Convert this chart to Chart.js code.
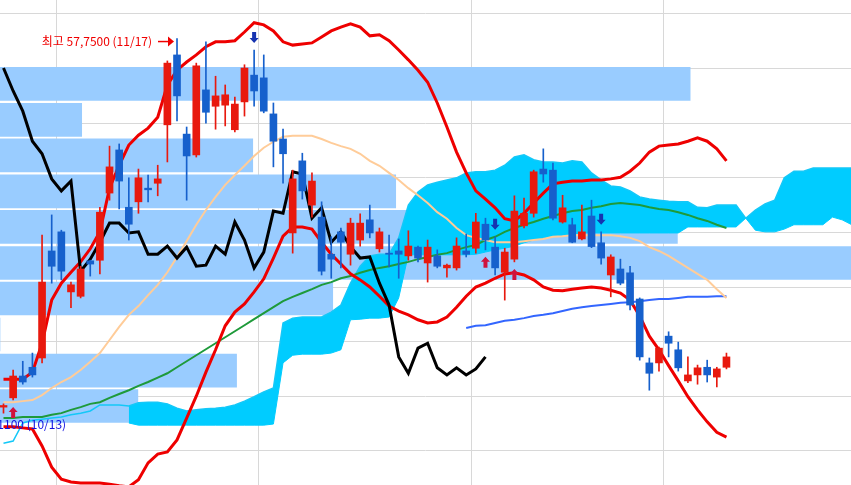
<!DOCTYPE html>
<html>
<head>
<meta charset="utf-8">
<script src="https://cdn.jsdelivr.net/npm/chart.js@4.4.1/dist/chart.umd.min.js"></script>
<style>
    html, body { margin: 0; padding: 0; background: #fff; }
    #wrap { width: 851px; height: 485px; position: relative; }
</style>
</head>
<body>
<div id="wrap"><canvas id="chart"></canvas></div>
<script>
// 일봉 (index 0 .. 75)
const open = [51.00, 51.17, 51.57, 51.73, 51.90, 53.86, 54.21, 53.11, 53.03, 53.68,
    53.69, 54.92, 55.71, 54.66, 54.76, 55.01, 55.10, 56.17, 57.45, 56.00,
    55.62, 56.81, 56.51, 56.53, 56.08, 56.59, 57.08, 57.03, 56.37, 55.91,
    54.19, 55.51, 54.70, 54.48, 53.80, 54.21, 53.80, 54.06, 54.43, 53.90,
    53.82, 53.86, 53.77, 53.93, 53.64, 53.77, 53.55, 53.55, 53.86, 53.91,
    54.35, 53.93, 53.47, 53.71, 54.32, 54.55, 55.36, 55.34, 54.39, 54.34,
    54.08, 54.50, 54.01, 53.42, 53.53, 53.46, 52.98, 51.81, 51.81, 52.30,
    52.05, 51.48, 51.59, 51.73, 51.55, 51.73];
const high = [51.06, 51.68, 51.84, 51.99, 54.15, 54.52, 54.24, 53.29, 53.58, 53.69,
    54.66, 55.78, 55.82, 55.20, 55.36, 55.25, 55.43, 57.34, 57.75, 56.13,
    57.30, 57.69, 57.06, 56.90, 56.68, 57.27, 57.54, 57.45, 56.57, 56.09,
    55.34, 55.65, 55.29, 54.76, 54.12, 54.28, 54.46, 54.54, 54.70, 54.28,
    54.15, 54.08, 54.23, 53.95, 54.06, 53.88, 53.62, 54.10, 54.17, 54.55,
    54.46, 54.12, 53.91, 54.87, 54.83, 55.34, 55.73, 55.47, 54.88, 54.46,
    54.70, 54.79, 54.21, 53.79, 53.71, 53.58, 53.00, 51.90, 52.10, 52.38,
    52.19, 51.92, 51.77, 51.86, 51.73, 51.99];
const low = [50.89, 51.13, 51.42, 51.55, 51.81, 53.27, 53.33, 52.82, 53.00, 53.40,
    53.44, 54.79, 54.63, 54.06, 54.55, 54.76, 54.87, 55.49, 56.24, 54.79,
    55.58, 56.20, 56.09, 56.15, 56.04, 56.33, 56.51, 56.39, 55.40, 55.10,
    53.82, 54.81, 54.48, 53.42, 53.36, 53.55, 53.60, 53.95, 54.10, 53.84,
    53.57, 53.36, 53.69, 53.66, 53.29, 53.55, 53.38, 53.51, 53.75, 53.82,
    53.88, 53.42, 52.96, 53.66, 54.28, 54.48, 55.12, 54.43, 54.37, 54.01,
    54.06, 53.92, 53.62, 53.02, 53.24, 52.78, 51.86, 51.31, 51.66, 51.92,
    51.66, 51.45, 51.42, 51.46, 51.37, 51.70];
const close = [51.03, 51.57, 51.46, 51.59, 53.29, 53.58, 53.49, 53.24, 53.53, 53.62,
    54.57, 55.40, 55.14, 54.35, 55.20, 54.98, 55.18, 57.30, 56.70, 55.60,
    57.25, 56.40, 56.70, 56.72, 56.55, 57.21, 56.79, 56.42, 55.87, 55.64,
    55.18, 54.96, 55.14, 53.49, 53.71, 54.02, 54.37, 54.37, 54.19, 54.21,
    53.80, 53.80, 53.95, 53.73, 53.93, 53.58, 53.60, 53.95, 53.80, 54.39,
    54.06, 53.55, 53.84, 54.59, 54.55, 55.31, 55.27, 54.46, 54.65, 54.02,
    54.21, 53.94, 53.73, 53.75, 53.27, 52.87, 51.92, 51.62, 52.08, 52.17,
    51.72, 51.59, 51.72, 51.59, 51.70, 51.92];

// 볼린저 밴드
const bbUpper = [51.51, 51.51, 51.51, 51.64, 52.17, 52.96, 53.27, 53.47, 53.66, 53.90,
    54.21, 55.01, 55.43, 55.80, 55.98, 56.11, 56.31, 56.90, 57.17, 57.32,
    57.45, 57.60, 57.69, 57.69, 57.71, 57.87, 58.04, 58.00, 57.89, 57.69,
    57.63, 57.65, 57.67, 57.78, 57.89, 57.96, 58.02, 57.96, 57.80, 57.82,
    57.71, 57.54, 57.36, 57.17, 56.95, 56.57, 56.13, 55.67, 55.29, 54.96,
    54.81, 54.65, 54.45, 54.41, 54.55, 54.74, 54.92, 55.09, 55.12, 55.14,
    55.14, 55.16, 55.16, 55.18, 55.21, 55.32, 55.47, 55.67, 55.78, 55.80,
    55.82, 55.87, 55.93, 55.87, 55.73, 55.51];
const bbMiddle = [51.09, 51.09, 51.11, 51.13, 51.22, 51.35, 51.46, 51.55, 51.68, 51.83,
    51.99, 52.23, 52.47, 52.69, 52.85, 53.05, 53.24, 53.47, 53.75, 54.04,
    54.34, 54.61, 54.85, 55.07, 55.25, 55.42, 55.60, 55.75, 55.86, 55.95,
    55.97, 55.97, 55.97, 55.91, 55.84, 55.78, 55.73, 55.64, 55.51, 55.42,
    55.29, 55.16, 55.01, 54.88, 54.74, 54.57, 54.45, 54.28, 54.15, 54.10,
    54.06, 54.02, 54.02, 54.02, 54.04, 54.06, 54.08, 54.12, 54.13, 54.15,
    54.15, 54.15, 54.15, 54.15, 54.13, 54.10, 54.04, 53.93, 53.86, 53.77,
    53.66, 53.55, 53.44, 53.33, 53.16, 53.00];
const bbLower = [50.64, 50.64, 50.62, 50.60, 50.29, 49.90, 49.68, 49.63, 49.61, 49.61,
    49.61, 49.59, 49.56, 49.54, 49.67, 49.98, 50.14, 50.18, 50.40, 50.80,
    51.20, 51.64, 52.05, 52.49, 52.74, 52.89, 53.11, 53.35, 53.73, 54.13,
    54.30, 54.30, 54.26, 54.02, 53.80, 53.62, 53.44, 53.33, 53.20, 53.03,
    52.85, 52.76, 52.69, 52.60, 52.54, 52.56, 52.65, 52.83, 53.03, 53.20,
    53.27, 53.36, 53.44, 53.46, 53.42, 53.33, 53.20, 53.14, 53.13, 53.16,
    53.18, 53.20, 53.18, 53.14, 53.09, 52.96, 52.67, 52.30, 52.05, 51.76,
    51.48, 51.19, 50.95, 50.73, 50.54, 50.45];

// 이동평균
const ma60 = [50.80, 50.80, 50.82, 50.82, 50.82, 50.86, 50.89, 50.95, 51.00, 51.06,
    51.09, 51.17, 51.24, 51.31, 51.39, 51.46, 51.54, 51.62, 51.73, 51.84,
    51.95, 52.06, 52.17, 52.28, 52.39, 52.50, 52.61, 52.72, 52.83, 52.94,
    53.02, 53.09, 53.16, 53.24, 53.29, 53.36, 53.40, 53.46, 53.51, 53.55,
    53.58, 53.62, 53.66, 53.71, 53.75, 53.79, 53.82, 53.88, 53.93, 53.97,
    54.06, 54.12, 54.21, 54.28, 54.34, 54.39, 54.45, 54.50, 54.55, 54.59,
    54.61, 54.65, 54.68, 54.72, 54.74, 54.72, 54.70, 54.66, 54.63, 54.61,
    54.57, 54.52, 54.46, 54.41, 54.34, 54.28];
const ma120Start = 48;
const ma120 = [52.45, 52.49, 52.50, 52.54, 52.58, 52.60, 52.63, 52.67, 52.69, 52.72,
    52.76, 52.80, 52.83, 52.85, 52.87, 52.89, 52.91, 52.92, 52.94, 52.96,
    52.98, 52.98, 53.00, 53.02, 53.02, 53.02, 53.03, 53.03];

// 일목균형표: 후행스팬은 종가를 25봉 앞으로
const laggingShift = 25;
const span1 = [50.34, 50.38, 50.71, 50.76, 50.78, 50.80, 50.82, 50.86, 50.89, 50.93,
    51.04, 51.04, 51.04, 51.02, 51.08, 51.09, 51.09, 51.06, 50.98, 50.93,
    50.95, 50.97, 50.98, 51.00, 51.04, 51.11, 51.19, 51.28, 51.35, 52.54,
    52.63, 52.65, 52.65, 52.65, 52.74, 52.87, 53.27, 53.58, 53.77, 53.80,
    53.80, 54.10, 54.70, 54.94, 55.07, 55.12, 55.16, 55.20, 55.29, 55.31,
    55.31, 55.34, 55.43, 55.58, 55.62, 55.53, 55.49, 55.49, 55.47, 55.51,
    55.49, 55.29, 55.16, 55.05, 55.03, 54.96, 54.85, 54.81, 54.79, 54.77,
    54.76, 54.76, 54.66, 54.65, 54.70, 54.70, 54.70, 54.46, 54.61, 54.72,
    54.79, 55.20, 55.32, 55.32, 55.38, 55.38, 55.38, 55.38, 55.38];
const span2Start = 13;
const span2 = [50.71, 50.67, 50.67, 50.67, 50.67, 50.67, 50.67, 50.67, 50.67, 50.67,
    50.67, 50.67, 50.67, 50.67, 50.67, 50.69, 51.81, 51.95, 51.97, 51.97,
    51.97, 51.99, 52.05, 52.60, 52.61, 52.63, 52.63, 52.65, 53.00, 53.79,
    53.79, 53.79, 53.79, 53.79, 53.79, 53.79, 53.80, 53.84, 53.88, 53.91,
    53.95, 54.01, 54.06, 54.10, 54.13, 54.15, 54.17, 54.19, 54.19, 54.19,
    54.19, 54.19, 54.19, 54.19, 54.19, 54.19, 54.19, 54.19, 54.30, 54.30,
    54.30, 54.30, 54.30, 54.30, 54.46, 54.24, 54.21, 54.21, 54.26, 54.34,
    54.34, 54.34, 54.34, 54.48, 54.43, 54.34];

// 매물대 (가격대 중심, 상대 거래량 %)
const profilePrice = [56.92, 56.26, 55.61, 54.95, 54.30, 53.64, 52.99, 52.33, 51.67, 51.02];
const profileVolume = [81.1, 9.6, 29.7, 46.5, 79.6, 100, 39.1, 0, 27.8, 16.2];

// 격자선
const gridIndex = [5.5, 26.5, 48.5, 68.5];
const gridPrice = [50.2, 51.2, 52.2, 53.2, 54.2, 55.2, 56.2, 57.2, 58.2];

// 신호
const buySignals = [1, 50, 53];
const sellSignals = [26, 51, 62];
const highIndex = 18;
const highLabel = '최고 57,7500 (11/17)';
const lowIndex = 1;
const lowLabel = '51,1100 (10/13)';

const UP = '#E8190E';
const DOWN = '#1660CC';

const xy = (arr, start = 0) => arr.map((v, i) => ({ x: i + start, y: v }));
const candleColors = close.map((c, i) => c >= open[i] ? UP : DOWN);
const lagging = close.slice(laggingShift);

function drawArrow(ctx, cx, tipY, dir, color) {
    // dir 1 = 위쪽 화살표, -1 = 아래쪽
    ctx.fillStyle = color;
    ctx.beginPath();
    ctx.moveTo(cx, tipY);
    ctx.lineTo(cx + 4.5, tipY + dir * 5);
    ctx.lineTo(cx + 2, tipY + dir * 5);
    ctx.lineTo(cx + 2, tipY + dir * 11);
    ctx.lineTo(cx - 2, tipY + dir * 11);
    ctx.lineTo(cx - 2, tipY + dir * 5);
    ctx.lineTo(cx - 4.5, tipY + dir * 5);
    ctx.closePath();
    ctx.fill();
}

const markerPlugin = {
    id: 'markers',
    afterDatasetsDraw(chart) {
        const { ctx } = chart;
        const x = chart.scales.x, y = chart.scales.y;
        ctx.save();
        buySignals.forEach(i => drawArrow(ctx, x.getPixelForValue(i), y.getPixelForValue(low[i]) + 7, 1, '#D0123C'));
        sellSignals.forEach(i => drawArrow(ctx, x.getPixelForValue(i), y.getPixelForValue(high[i]) - 7, -1, '#1633B0'));

        ctx.font = '12px "Noto Sans CJK KR", "Noto Sans", sans-serif';
        ctx.textBaseline = 'middle';
        // 최고가
        const hx = x.getPixelForValue(highIndex), hy = y.getPixelForValue(high[highIndex]) + 3;
        ctx.fillStyle = '#F00000';
        ctx.textAlign = 'right';
        ctx.fillText(highLabel, hx - 25, hy);
        ctx.strokeStyle = '#F00000';
        ctx.lineWidth = 1.5;
        ctx.beginPath();
        ctx.moveTo(hx - 19, hy);
        ctx.lineTo(hx - 8, hy);
        ctx.stroke();
        ctx.beginPath();
        ctx.moveTo(hx - 3, hy);
        ctx.lineTo(hx - 9, hy - 5);
        ctx.lineTo(hx - 9, hy + 5);
        ctx.closePath();
        ctx.fill();
        // 최저가
        const lx = x.getPixelForValue(lowIndex), ly = y.getPixelForValue(low[lowIndex]) + 24;
        ctx.fillStyle = '#1010E0';
        ctx.fillText(lowLabel, lx + 53, ly);
        ctx.restore();
    }
};

const lineDs = (label, data, color, width, order) => ({
    type: 'line', label, data, borderColor: color, borderWidth: width,
    pointRadius: 0, tension: 0, fill: false, order
});

new Chart(document.getElementById('chart'), {
    type: 'bar',
    data: {
        datasets: [
            {
                type: 'bar', label: '매물대', indexAxis: 'y', xAxisID: 'xv', yAxisID: 'y',
                data: profilePrice.map((p, k) => ({ x: profileVolume[k], y: p })),
                backgroundColor: '#99CCFF', barThickness: 33, grouped: false, order: 20
            },
            lineDs('선행스팬1', xy(span1), '#14C8F8', 1.5, 13),
            {
                type: 'line', label: '선행스팬2', data: xy(span2, span2Start),
                borderColor: '#00CCFF', borderWidth: 1, pointRadius: 0, tension: 0,
                fill: 1, backgroundColor: '#00CCFF', order: 14
            },
            lineDs('120', xy(ma120, ma120Start), '#3366FF', 2, 9),
            lineDs('60', xy(ma60), '#1E9A3A', 2, 8),
            lineDs('BB중심', xy(bbMiddle), '#FFCC99', 2, 7),
            lineDs('BB상단', xy(bbUpper), '#EE0000', 3, 6),
            lineDs('BB하단', xy(bbLower), '#EE0000', 3, 5),
            lineDs('후행스팬', xy(lagging), '#000000', 3, 4),
            {
                type: 'bar', label: '꼬리',
                data: low.map((l, i) => ({ x: i, y: [l, high[i]] })),
                backgroundColor: candleColors, barThickness: 1, grouped: false, order: 2
            },
            {
                type: 'bar', label: '몸통',
                data: open.map((o, i) => ({ x: i, y: [o, close[i]] })),
                backgroundColor: candleColors, barThickness: 7, minBarLength: 1,
                grouped: false, order: 1
            }
        ]
    },
    options: {
        responsive: true,
        maintainAspectRatio: false,
        animation: false,
        events: [],
        layout: { padding: 0 },
        plugins: { legend: { display: false }, tooltip: { enabled: false } },
        scales: {
            x: {
                type: 'linear', min: -0.363, max: 87.92, offset: false,
                ticks: { display: false },
                grid: { color: '#D8D8D8', drawTicks: false, offset: false },
                border: { display: false },
                afterBuildTicks: axis => { axis.ticks = gridIndex.map(v => ({ value: v })); }
            },
            y: {
                type: 'linear', min: 49.574, max: 58.456, offset: false,
                ticks: { display: false },
                grid: { color: '#D8D8D8', drawTicks: false, offset: false },
                border: { display: false },
                afterBuildTicks: axis => { axis.ticks = gridPrice.map(v => ({ value: v })); }
            },
            xv: { type: 'linear', axis: 'x', min: 0, max: 100, display: false, offset: false }
        }
    },
    plugins: [markerPlugin]
});
</script>
</body>
</html>
